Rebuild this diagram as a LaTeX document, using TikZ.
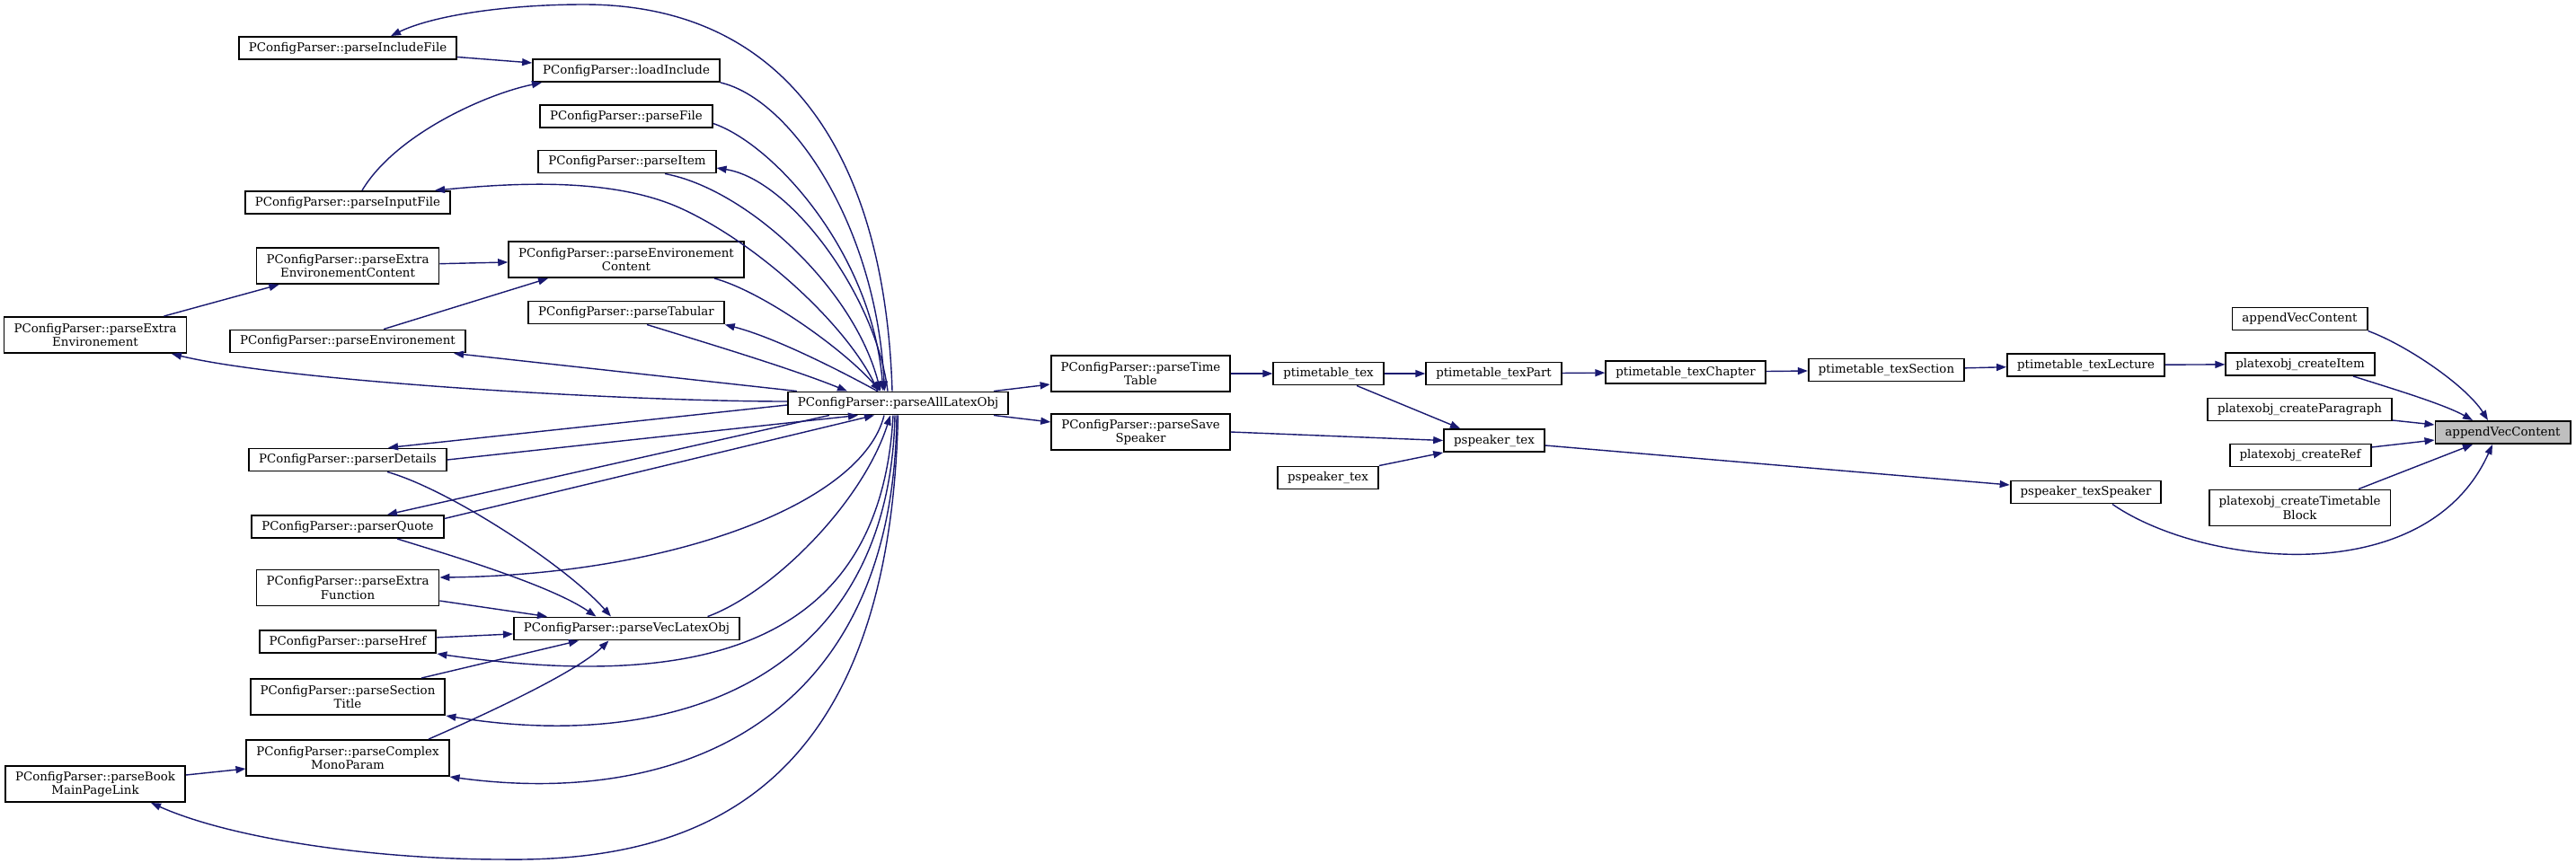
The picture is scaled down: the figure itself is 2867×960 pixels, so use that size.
\documentclass[tikz,border=0pt]{standalone}
\usepackage{fontspec}
\setmainfont{DejaVu Serif}
\usetikzlibrary{arrows.meta}
\definecolor{edgeblue}{HTML}{191970}
\definecolor{vecgray}{HTML}{BFBFBF}

\begin{document}
\begin{tikzpicture}[x=0.01cm, y=-0.01cm,
  fn/.style={draw=black, line width=0.55pt, fill=white, inner xsep=0.11cm, inner ysep=0.045cm,
    minimum height=0.25cm, align=center, font=\fontsize{3.8}{4.3}\selectfont},
  fn2/.style={fn, minimum height=0.40cm},
  call/.style={draw=edgeblue, line width=0.4pt, -{Triangle[length=0.11cm,width=0.08cm]}}]
\useasboundingbox (0,0) rectangle (2867,960);
% right column
\node[fn, fill=vecgray] (gvc) at (2785.5,481.5) {appendVecContent};
\node[fn] (avc) at (2559.5,355) {appendVecContent};
\node[fn] (cItem) at (2560,405.5) {platexobj\_createItem};
\node[fn] (cPar) at (2559.5,456) {platexobj\_createParagraph};
\node[fn] (cRef) at (2560,507) {platexobj\_createRef};
\node[fn2] (cTT) at (2559.5,565.5) {platexobj\_createTimetable\\Block};
\node[fn] (tLec) at (2321.5,406.5) {ptimetable\_texLecture};
\node[fn] (sSpk) at (2321.5,548) {pspeaker\_texSpeaker};
\node[fn] (tSec) at (2099.5,412) {ptimetable\_texSection};
\node[fn] (tChap) at (1876,414.5) {ptimetable\_texChapter};
\node[fn] (tPart) at (1662.5,416) {ptimetable\_texPart};
\node[fn] (sTex) at (1663,490.5) {pspeaker\_tex};
\node[fn] (tTex) at (1478.5,416) {ptimetable\_tex};
\node[fn] (sTexB) at (1478,532) {pspeaker\_tex};
\node[fn2] (pTT) at (1269.5,416) {PConfigParser::parseTime\\Table};
\node[fn2] (pSS) at (1269.5,481) {PConfigParser::parseSave\\Speaker};
\node[fn] (pAll) at (999.5,449) {PConfigParser::parseAllLatexObj};
% middle column
\node[fn] (pLoad) at (697,78.5) {PConfigParser::loadInclude};
\node[fn] (pFile) at (697,129.5) {PConfigParser::parseFile};
\node[fn] (pItem) at (698,180) {PConfigParser::parseItem};
\node[fn2] (pEnvC) at (697,289) {PConfigParser::parseEnvironement\\Content};
\node[fn] (pTab) at (697,348) {PConfigParser::parseTabular};
\node[fn] (pVec) at (697.5,700) {PConfigParser::parseVecLatexObj};
% left columns
\node[fn] (pInc) at (387,53.5) {PConfigParser::parseIncludeFile};
\node[fn] (pIn) at (387,225.5) {PConfigParser::parseInputFile};
\node[fn2] (pXEC) at (387,296) {PConfigParser::parseExtra\\EnvironementContent};
\node[fn] (pEnv) at (387,380) {PConfigParser::parseEnvironement};
\node[fn] (pDet) at (387,512) {PConfigParser::parserDetails};
\node[fn] (pQuo) at (387,586.5) {PConfigParser::parserQuote};
\node[fn2] (pXF) at (387,654.5) {PConfigParser::parseExtra\\Function};
\node[fn] (pHref) at (387,714.5) {PConfigParser::parseHref};
\node[fn2] (pSec) at (387,776) {PConfigParser::parseSection\\Title};
\node[fn2] (pCMP) at (387,844) {PConfigParser::parseComplex\\MonoParam};
\node[fn2] (pXE) at (106,373) {PConfigParser::parseExtra\\Environement};
\node[fn2] (pBook) at (106,873) {PConfigParser::parseBook\\MainPageLink};

% into appendVecContent
\draw[call] (avc.south east) .. controls (2680,385) and (2745,430) .. ([xshift=-0.165cm]gvc.north);
\draw[call] ([xshift=0.59cm]cItem.south) .. controls (2660,432) and (2720,450) .. ([xshift=-0.335cm]gvc.north);
\draw[call] ([yshift=-0.12cm]cPar.east) -- ([yshift=0.085cm]gvc.west);
\draw[call] ([yshift=0.09cm]cRef.east) -- ([yshift=-0.085cm]gvc.west);
\draw[call] ([xshift=0.655cm]cTT.north) -- ([xshift=-0.335cm]gvc.south);
\draw[call] ([xshift=0.295cm]sSpk.south) .. controls (2450,630) and (2700,660) .. ([xshift=-0.115cm]gvc.south);
% timetable chain
\draw[call] (tLec) -- (cItem);
\draw[call] (tSec) -- (tLec);
\draw[call] (tChap) -- (tSec);
\draw[call] (tPart) -- (tChap);
\draw[call] (tTex) -- (tPart);
\draw[call] (pTT) -- (tTex);
\draw[call] ([xshift=0.315cm]tTex.south) -- ([xshift=-0.38cm]sTex.north);
\draw[call] (pSS.east) -- (sTex.west);
\draw[call] (sTexB.north east) -- (sTex.south west);
\draw[call] ([yshift=-0.055cm]sTex.east) -- ([yshift=0.08cm]sSpk.west);
\draw[call] ([xshift=1.065cm]pAll.north) -- ([yshift=-0.12cm]pTT.west);
\draw[call] ([xshift=1.065cm]pAll.south) -- ([yshift=0.11cm]pSS.west);
% upper half
\draw[call] ([yshift=-0.1cm]pInc.east) -- ([yshift=0.085cm]pLoad.west);
\draw[call] ([xshift=0.16cm]pIn.north) .. controls (440,150) and (540,105) .. ([xshift=-0.94cm]pLoad.south);
\draw[call] ([xshift=-0.065cm]pAll.north) .. controls (985,180) and (880,5) .. (650,5)
  .. controls (560,5) and (480,18) .. ([xshift=0.48cm]pInc.north);
\draw[call] (pLoad.south east) .. controls (880,110) and (975,250) .. ([xshift=-0.15cm]pAll.north);
\draw[call] ([yshift=-0.08cm]pFile.east) .. controls (860,160) and (970,280) .. ([xshift=-0.165cm]pAll.north);
\draw[call] ([xshift=-0.115cm]pAll.north) .. controls (975,330) and (880,200) .. ([yshift=-0.07cm]pItem.east);
\draw[call] ([xshift=0.42cm]pItem.south) .. controls (830,210) and (950,320) .. ([xshift=-0.195cm]pAll.north);
\draw[call] ([xshift=-0.225cm]pAll.north) .. controls (950,370) and (850,275) .. (760,233)
  .. controls (679,195) and (560,205) .. ([xshift=0.97cm]pIn.north);
\draw[call] ([xshift=0.98cm]pEnvC.south) .. controls (850,325) and (940,390) .. ([xshift=-0.2cm]pAll.north);
\draw[call] ([xshift=-0.23cm]pAll.north) .. controls (930,410) and (860,375) .. (pTab.south east);
\draw[call] ([xshift=0.23cm]pTab.south) .. controls (780,380) and (880,410) .. ([xshift=-0.565cm]pAll.north);
\draw[call] ([xshift=-1.125cm]pAll.north) -- ([xshift=1.18cm]pEnv.south);
\draw[call] ([yshift=0.02cm]pAll.west) .. controls (700,447) and (320,425) .. ([xshift=0.85cm]pXE.south);
\draw[call] (pXEC) -- (pEnvC);
\draw[call] (pXE) -- (pXEC);
\draw[call] ([xshift=0.4cm]pEnv.north) -- ([xshift=-0.87cm]pEnvC.south);
% lower half
\draw[call] ([yshift=-0.02cm]pAll.west) -- ([xshift=0.45cm]pDet.north);
\draw[call] (pDet.east) -- ([xshift=-0.445cm]pAll.south);
\draw[call] ([xshift=-0.765cm]pAll.south) -- ([xshift=0.44cm]pQuo.north);
\draw[call] ([yshift=0.09cm]pQuo.east) -- ([xshift=-0.265cm]pAll.south);
\draw[call] ([xshift=-0.155cm]pAll.south) .. controls (960,560) and (750,640) .. ([yshift=0.115cm]pXF.east);
\draw[call] ([xshift=0.9cm]pVec.north) .. controls (860,660) and (960,560) .. ([xshift=-0.085cm]pAll.south);
\draw[call] ([xshift=-0.055cm]pAll.south) .. controls (980,720) and (780,770) .. (pHref.south east);
\draw[call] ([xshift=-0.035cm]pAll.south) .. controls (990,750) and (760,840) .. (pSec.south east);
\draw[call] ([xshift=-0.015cm]pAll.south) .. controls (995,800) and (760,900) .. (pCMP.south east);
\draw[call] (pAll.south) .. controls (990,880) and (780,960) .. (560,957)
  .. controls (420,957) and (260,935) .. ([xshift=0.62cm]pBook.south);
% into parseVecLatexObj
\draw[call] ([xshift=0.44cm]pDet.south) .. controls (500,545) and (630,630) .. ([xshift=-0.175cm]pVec.north);
\draw[call] ([xshift=0.55cm]pQuo.south) .. controls (490,615) and (610,650) .. ([xshift=-0.34cm]pVec.north);
\draw[call] ([yshift=-0.145cm]pXF.east) -- ([xshift=-0.885cm]pVec.north);
\draw[call] (pHref) -- (pVec);
\draw[call] ([xshift=0.82cm]pSec.north) -- ([xshift=-0.535cm]pVec.south);
\draw[call] ([xshift=0.9cm]pCMP.north) .. controls (530,800) and (640,750) .. ([xshift=-0.2cm]pVec.south);
\draw[call] ([yshift=0.1cm]pBook.east) -- ([yshift=-0.12cm]pCMP.west);
\end{tikzpicture}
\end{document}
